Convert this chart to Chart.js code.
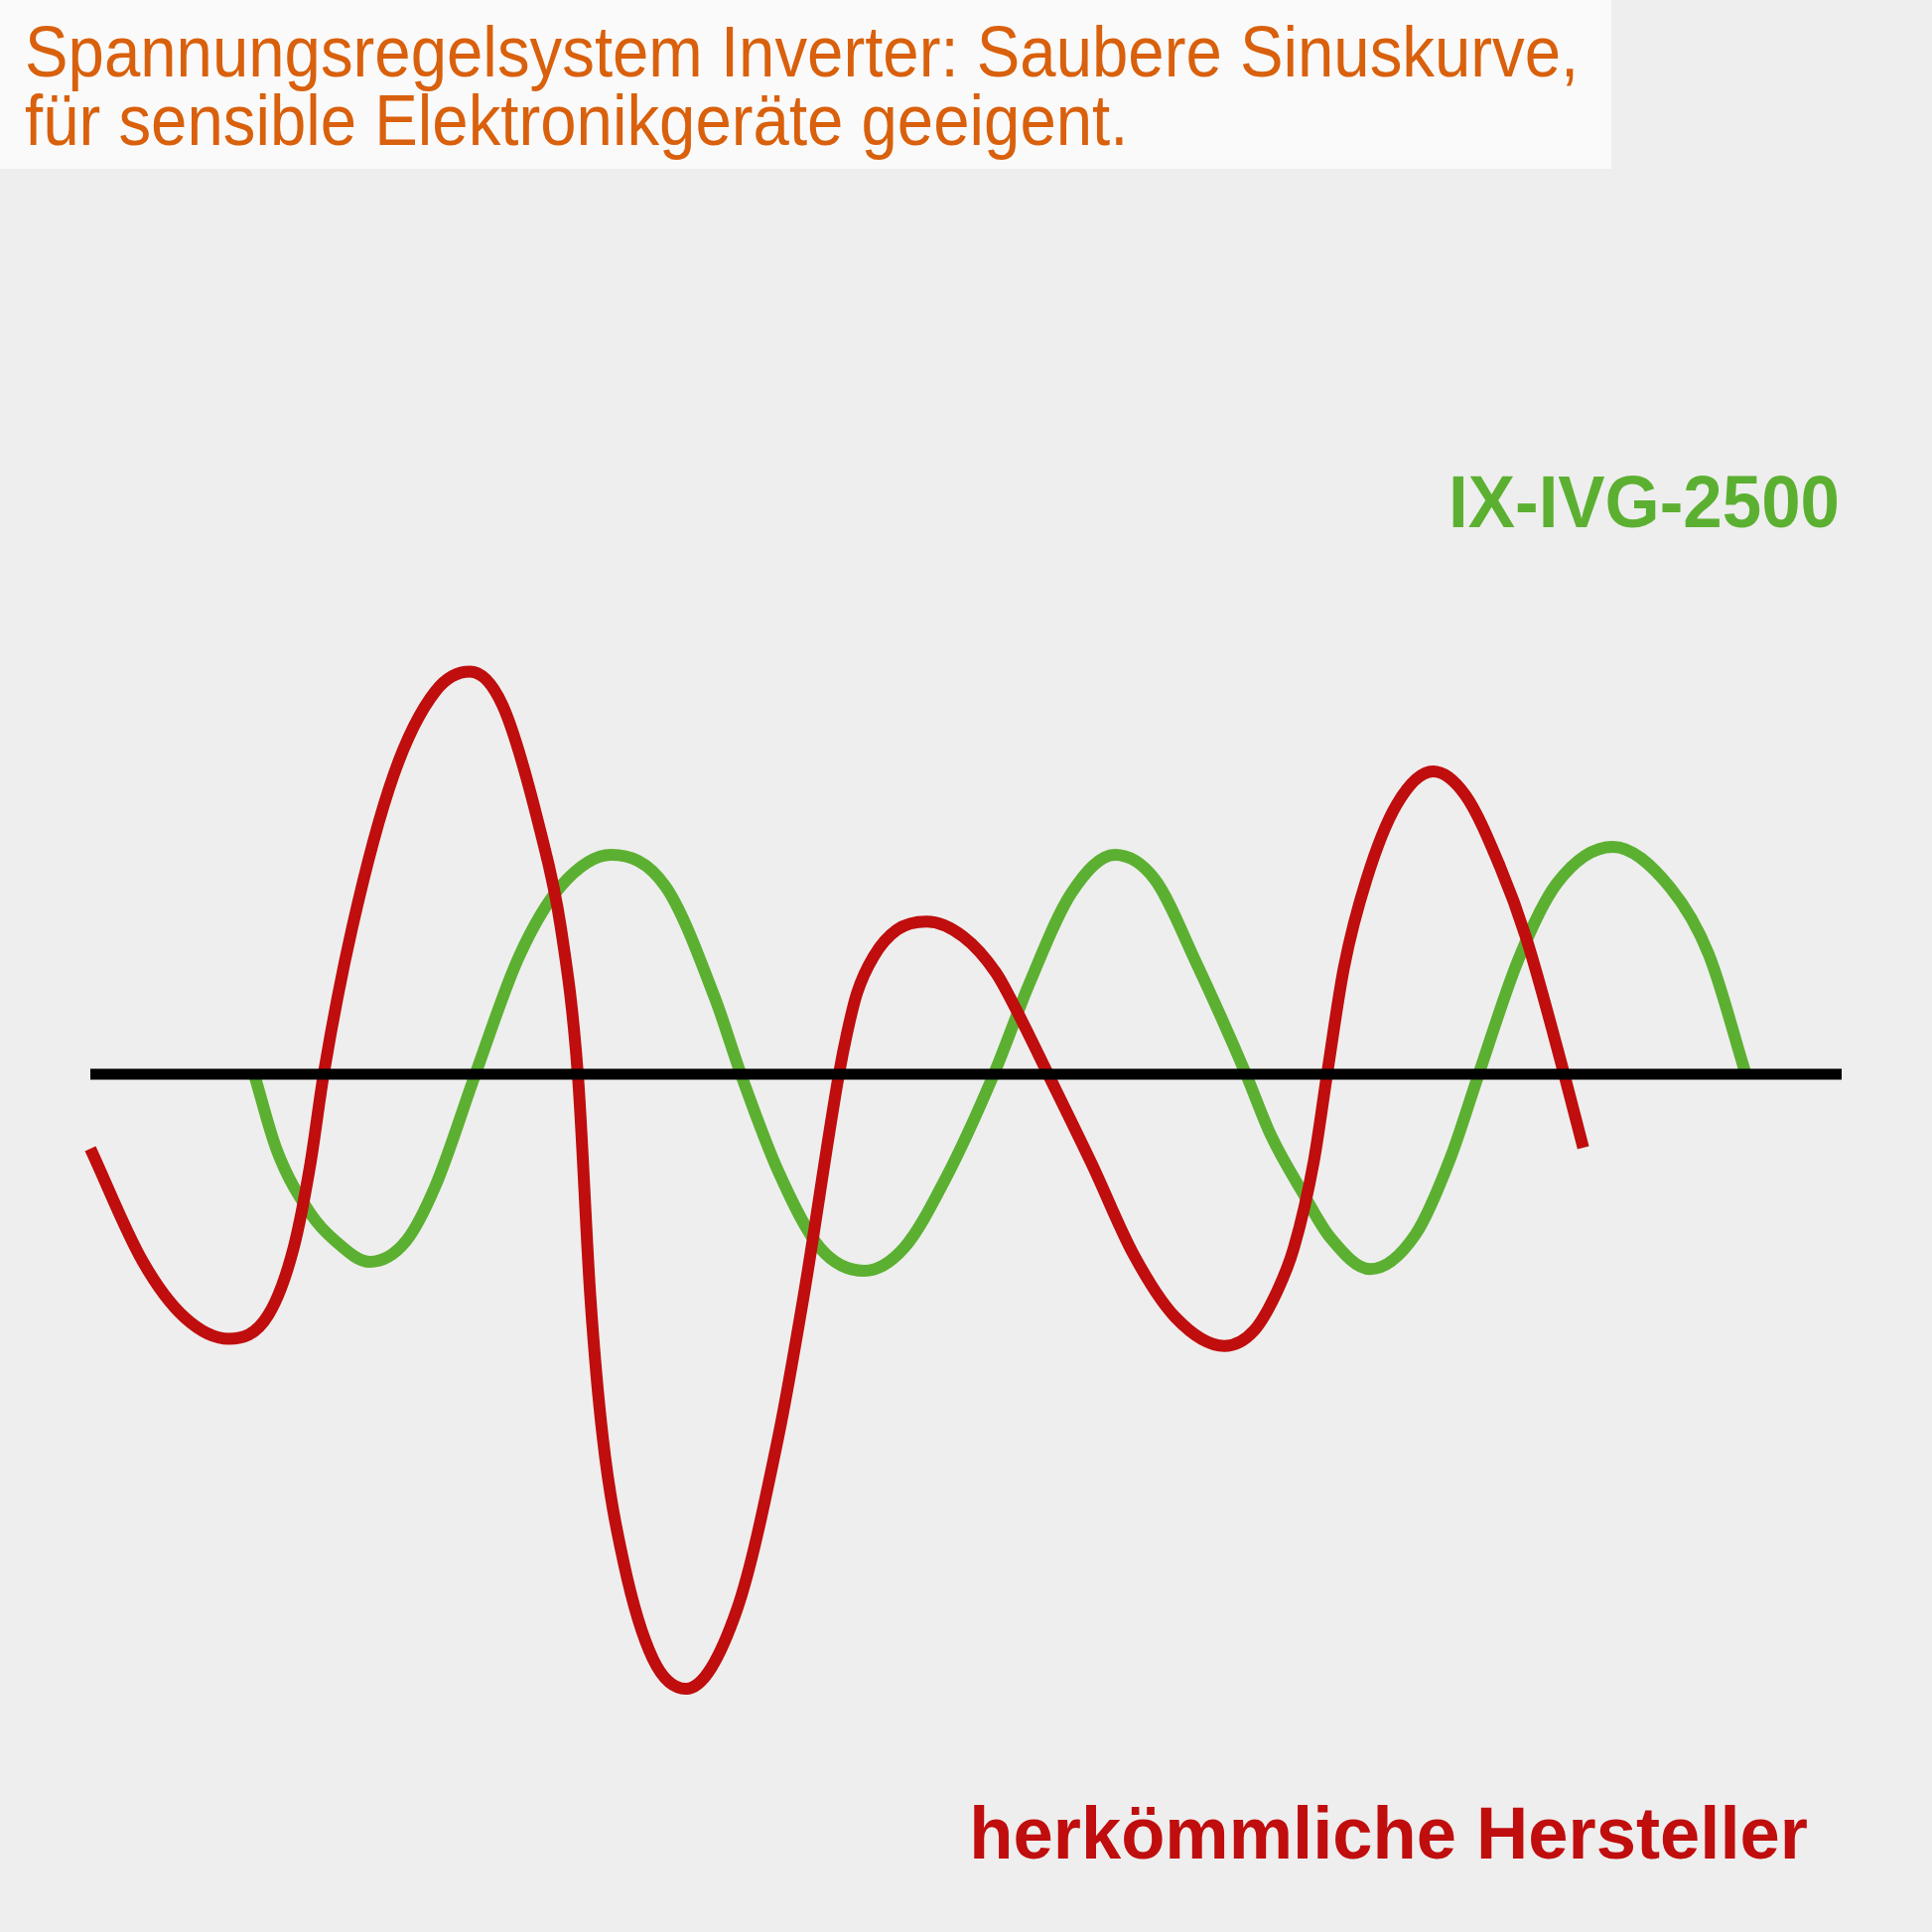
<!DOCTYPE html>
<html>
<head>
<meta charset="utf-8">
<script src="https://cdn.jsdelivr.net/npm/chart.js@4/dist/chart.umd.min.js"></script>
<style>
  html, body { margin: 0; padding: 0; background: #eeeeee; }
  canvas { display: block; }
</style>
</head>
<body>
<canvas id="sinus" width="1946" height="1946"></canvas>
<script>
// Titel und Beschriftungen
var titleLines = ['Spannungsregelsystem Inverter: Saubere Sinuskurve,', 'für sensible Elektronikgeräte geeigent.'];
var greenLabel = 'IX-IVG-2500';
var redLabel = 'herkömmliche Hersteller';

// Zeitachse (t) und Spannung (u), Nulllinie = 0
var redT = [0, 53, 95, 139.5, 179.5, 204.7, 221.5, 235, 263.6, 305.7, 347.8, 382.3, 415, 453, 474, 491,
  503.6, 516, 537, 566.7, 600, 651, 693, 718.4, 754, 762.3, 772.3, 789, 812.3, 842.3, 879, 912.3, 929, 964.7,
  1009, 1051, 1093, 1142.3, 1172.3, 1195.7, 1212.3, 1232.3, 1245.7, 1262.6, 1285.5, 1316, 1352.5,
  1385, 1419.5, 1446, 1484.5, 1503.7];
var redU = [-75, -189, -245, -266.5, -242, -175, -91, 0, 147, 302, 386, 405.5, 372, 246, 147, 0,
  -224, -365, -491, -589, -619, -540, -365, -224, 0, 42, 82, 118.7, 145.3, 153.7, 138.7, 102, 72, 0,
  -91, -182, -245, -273.7, -258, -218, -174.7, -88, 0, 107, 196.5, 272, 305,
  281, 210, 138, 0, -74];

var greenT = [165, 188, 221.5, 246.8, 281.3, 318, 347.8, 387.8, 432, 474, 524.6, 579, 629, 655.3,
  693, 735, 779.5, 819.5, 861.5, 910, 945.7, 987.8, 1032, 1072, 1114, 1164,
  1189, 1222.3, 1249, 1289, 1335, 1369.7, 1398.4, 1438.6, 1477, 1533.5, 1591.7, 1630, 1667.5];
var greenU = [0, -77, -140, -168, -189, -168, -112, 0, 119, 189.5, 221, 189.5, 77, 0,
  -98, -175, -198, -175, -105, 0, 91, 182, 221, 196.5, 112, 0,
  -61.3, -121.3, -164.7, -196.3, -161, -85, 0, 116, 192, 229, 187.5, 121, 0];

var zeroT = [0, 1764];
var zeroU = [0, 0];

function pts(t, u) {
  return t.map(function (v, i) { return { x: v, y: u[i] }; });
}

var redColor = '#c00d0d';
var greenColor = '#5cb031';

// Text mit horizontaler Stauchung (Vorlage nutzt eine schmale Schrift)
function squeezed(c, text, x, y, sx) {
  c.save();
  c.translate(x, y);
  c.scale(sx, 1);
  c.fillText(text, 0, 0);
  c.restore();
}

// Hintergrund, Titelbox und Texte
var textPlugin = {
  id: 'texte',
  beforeDraw: function (chart) {
    var c = chart.ctx;
    c.save();
    c.fillStyle = '#eeeeee';
    c.fillRect(0, 0, chart.width, chart.height);
    c.fillStyle = '#fafafa';
    c.fillRect(0, 0, 1623, 170);
    c.fillStyle = '#d9600c';
    c.font = '73px "Liberation Sans", Arial, sans-serif';
    c.textBaseline = 'alphabetic';
    c.textAlign = 'left';
    squeezed(c, titleLines[0], 25, 77, 0.895);
    squeezed(c, titleLines[1], 25, 146, 0.895);
    c.restore();
  },
  afterDraw: function (chart) {
    var c = chart.ctx;
    c.save();
    c.textAlign = 'right';
    c.textBaseline = 'alphabetic';
    c.font = 'bold 75px "Liberation Sans", Arial, sans-serif';
    c.fillStyle = greenColor;
    squeezed(c, greenLabel, 1853, 531, 0.945);
    c.font = 'bold 74px "Liberation Sans", Arial, sans-serif';
    c.fillStyle = redColor;
    squeezed(c, redLabel, 1821, 1872, 0.978);
    c.restore();
  }
};

new Chart(document.getElementById('sinus').getContext('2d'), {
  type: 'line',
  data: {
    datasets: [{
      label: 'Nulllinie',
      data: pts(zeroT, zeroU),
      borderColor: '#000000',
      borderWidth: 11,
      pointRadius: 0
    }, {
      label: redLabel,
      data: pts(redT, redU),
      borderColor: redColor,
      borderWidth: 12,
      pointRadius: 0,
      cubicInterpolationMode: 'monotone'
    }, {
      label: greenLabel,
      data: pts(greenT, greenU),
      borderColor: greenColor,
      borderWidth: 12,
      pointRadius: 0,
      cubicInterpolationMode: 'monotone'
    }]
  },
  options: {
    responsive: false,
    animation: false,
    devicePixelRatio: 1,
    layout: { padding: 0 },
    plugins: {
      legend: { display: false },
      tooltip: { enabled: false }
    },
    scales: {
      x: { type: 'linear', min: -91, max: 1855, display: false },
      y: { min: -864, max: 1082, display: false }
    }
  },
  plugins: [textPlugin]
});
</script>
</body>
</html>
